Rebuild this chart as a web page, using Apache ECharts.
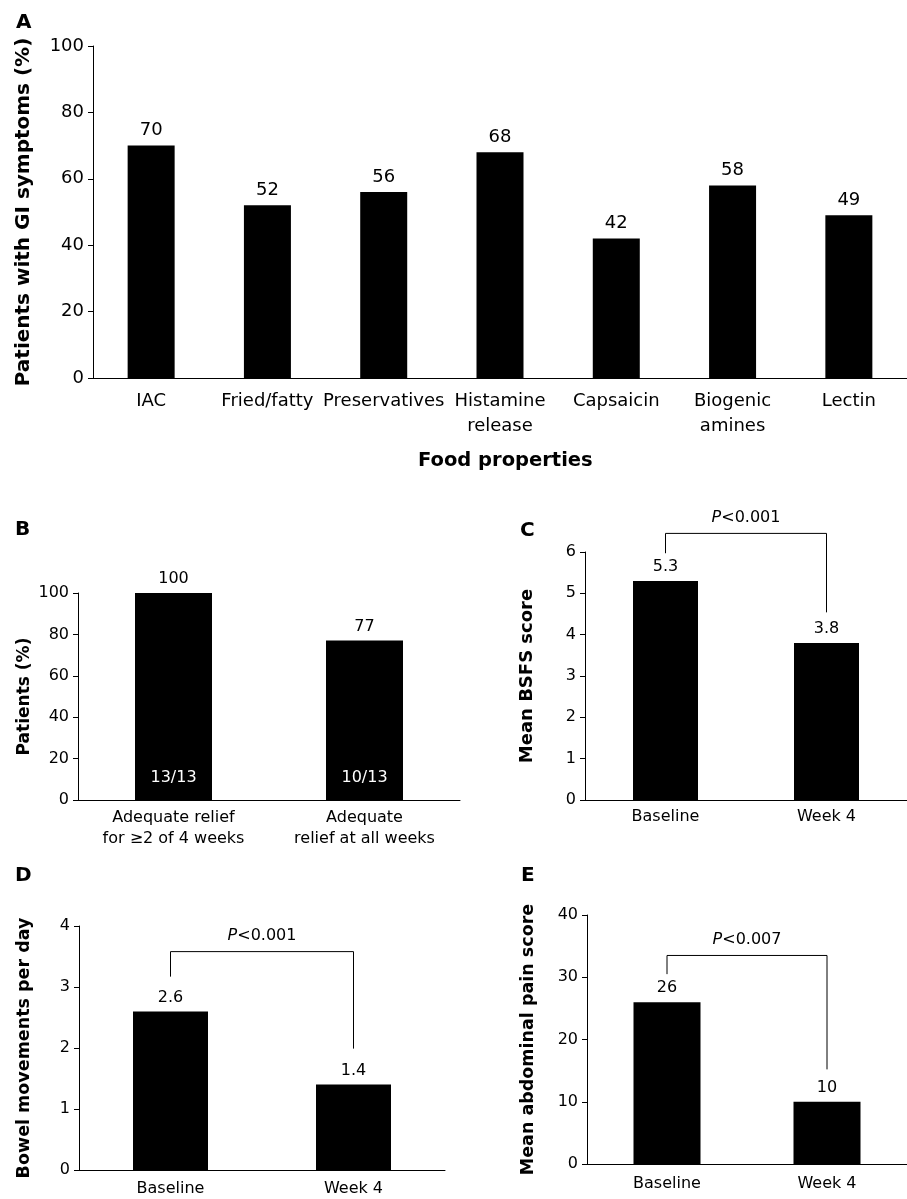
<!DOCTYPE html>
<html>
<head>
<meta charset="utf-8">
<script src="https://cdn.jsdelivr.net/npm/echarts@6/dist/echarts.min.js"></script>
<style>
html,body{margin:0;padding:0;background:#fff;}
#chart{width:907px;height:1199px;}
</style>
</head>
<body>
<div id="chart"></div>
<script>
// ---- Data ----
const foodCategories = ['IAC', 'Fried/fatty', 'Preservatives', 'Histamine\nrelease', 'Capsaicin', 'Biogenic\namines', 'Lectin'];
const foodValues = [70, 52, 56, 68, 42, 58, 49];

const reliefCategories = ['Adequate relief\nfor \u22652 of 4 weeks', 'Adequate\nrelief at all weeks'];
const reliefValues = [100, 77];
const reliefCounts = ['13/13', '10/13'];

const timeCategories = ['Baseline', 'Week 4'];
const bsfsValues = [5.3, 3.8];
const bowelValues = [2.6, 1.4];
const painValues = [26, 10];

// bracket: [x, leftEnd, top, rightEnd] in data units
const bsfsBracket = [0, 5.97, 6.45, 4.54];
const bowelBracket = [0, 3.17, 3.58, 1.99];
const painBracket = [0, 30.5, 33.5, 15.2];
const bsfsP = '<0.001';
const bowelP = '<0.001';
const painP = '<0.007';

// ---- Chart ----
const FONT = 'DejaVu Sans';
const chart = echarts.init(document.getElementById('chart'), null, {renderer: 'canvas'});

function yAxis(gridIndex, max, interval, name, nameGap, fs, nfs) {
  return {
    type: 'value', gridIndex, min: 0, max, interval,
    name, nameLocation: 'middle', nameRotate: 90, nameGap,
    nameTextStyle: {fontFamily: FONT, fontWeight: 'bold', fontSize: nfs, color: '#000'},
    axisLine: {show: true, lineStyle: {color: '#000', width: 1}},
    axisTick: {show: true, length: 5, lineStyle: {color: '#000'}},
    axisLabel: {fontFamily: FONT, fontSize: fs, color: '#000', margin: 9},
    splitLine: {show: false}
  };
}
function xAxis(gridIndex, data, fs, margin, lh) {
  return {
    type: 'category', gridIndex, data,
    axisLine: {show: true, lineStyle: {color: '#000', width: 1}},
    axisTick: {show: false},
    axisLabel: {fontFamily: FONT, fontSize: fs, color: '#000', margin, lineHeight: lh, interval: 0}
  };
}
function barSeries(idx, data, barWidth, fs) {
  return {
    type: 'bar', xAxisIndex: idx, yAxisIndex: idx, data, barWidth,
    itemStyle: {color: '#000'},
    label: {show: true, position: 'top', distance: 6, fontFamily: FONT, fontSize: fs, color: '#000'},
    silent: true
  };
}
function bracketSeries(idx, bracket, ptext) {
  return {
    type: 'custom', xAxisIndex: idx, yAxisIndex: idx, clip: false, silent: true, z: 5,
    encode: {x: 0, y: 1},
    data: [bracket],
    renderItem: function (params, api) {
      const a = api.coord([0, api.value(1)]);
      const b = api.coord([0, api.value(2)]);
      const c = api.coord([1, api.value(2)]);
      const d = api.coord([1, api.value(3)]);
      return {
        type: 'group',
        children: [
          {type: 'polyline', shape: {points: [a, b, c, d]}, style: {stroke: '#000', lineWidth: 1, fill: null}},
          {type: 'text', x: (b[0] + c[0]) / 2, y: b[1] - 16,
            style: {text: '{i|P}' + ptext, fill: '#000', fontFamily: FONT, fontSize: 16,
              align: 'center', verticalAlign: 'middle', textAlign: 'center', textVerticalAlign: 'middle',
              rich: {i: {fontStyle: 'italic', fontFamily: FONT, fontSize: 16, fill: '#000'}}}}
        ]
      };
    }
  };
}

const letterStyle = {fontFamily: FONT, fontWeight: 'bold', fontSize: 20, color: '#000'};

const option = {
  backgroundColor: '#fff',
  animation: false,
  title: [
    {text: 'A', left: 16, top: 13, padding: 0, textStyle: letterStyle},
    {text: 'B', left: 15, top: 520, padding: 0, textStyle: letterStyle},
    {text: 'C', left: 520, top: 521, padding: 0, textStyle: letterStyle},
    {text: 'D', left: 15, top: 866, padding: 0, textStyle: letterStyle},
    {text: 'E', left: 521, top: 866, padding: 0, textStyle: letterStyle}
    ,
    {text: 'Food properties', left: 418, top: 451, padding: 0,
      textStyle: {fontFamily: FONT, fontWeight: 'bold', fontSize: 19.5, color: '#000'}}
  ],
  grid: [
    {left: 93, top: 46, width: 822, height: 332},
    {left: 78, top: 593, width: 382, height: 207},
    {left: 585, top: 552, width: 322, height: 248},
    {left: 79, top: 926, width: 366, height: 247},
    {left: 587, top: 915, width: 330, height: 249}
  ],
  xAxis: [
    xAxis(0, foodCategories, 18, 11, 25),
    xAxis(1, reliefCategories, 16, 7, 21),
    xAxis(2, timeCategories, 16, 7, 20),
    xAxis(3, timeCategories, 16, 9, 20),
    xAxis(4, timeCategories, 16, 10, 20)
  ],
  yAxis: [
    yAxis(0, 100, 20, 'Patients with GI symptoms (%)', 59, 18, 20),
    yAxis(1, 100, 20, 'Patients (%)', 45, 16, 17),
    yAxis(2, 6, 1, 'Mean BSFS score', 49, 16, 18),
    yAxis(3, 4, 1, 'Bowel movements per day', 46, 16, 17.5),
    yAxis(4, 40, 10, 'Mean abdominal pain score', 50, 16, 17.5)
  ],
  series: [
    barSeries(0, foodValues, 47, 18),
    barSeries(1, reliefValues, 77, 16),
    {
      type: 'bar', xAxisIndex: 1, yAxisIndex: 1, data: reliefValues, barWidth: 77, barGap: '-100%',
      itemStyle: {color: 'rgba(0,0,0,0)'}, silent: true, z: 3,
      label: {show: true, position: 'insideBottom', distance: 14, fontFamily: FONT, fontSize: 16, color: '#fff',
        formatter: function (p) { return reliefCounts[p.dataIndex]; }}
    },
    barSeries(2, bsfsValues, 65, 16),
    barSeries(3, bowelValues, 75, 16),
    barSeries(4, painValues, 67, 16),
    bracketSeries(2, bsfsBracket, bsfsP),
    bracketSeries(3, bowelBracket, bowelP),
    bracketSeries(4, painBracket, painP)
  ]
};
chart.setOption(option);
</script>
</body>
</html>
